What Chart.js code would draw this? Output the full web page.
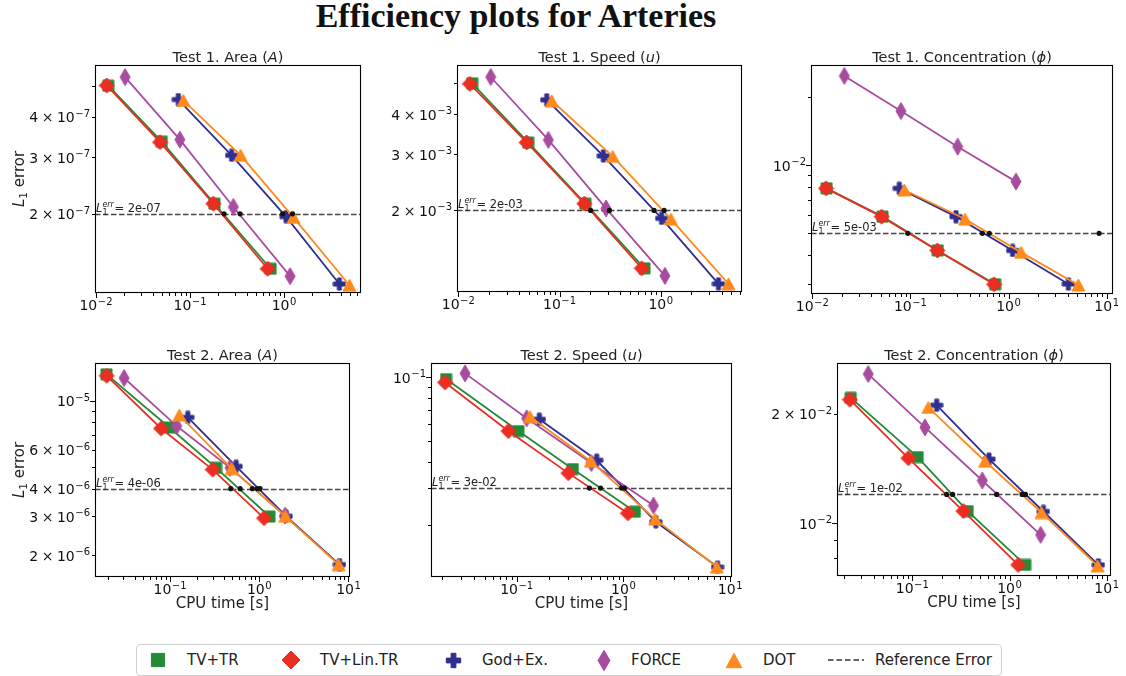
<!DOCTYPE html>
<html>
<head>
<meta charset="utf-8">
<title>Efficiency plots for Arteries</title>
<script src="https://cdn.jsdelivr.net/npm/chart.js@4.4.1/dist/chart.umd.min.js"></script>
<style>
  body { margin: 0; width: 1126px; height: 676px; overflow: hidden; background: #fff; position: relative; font-family: "DejaVu Sans", sans-serif; }
  #title { position: absolute; left: 0; top: -3px; width: 1032px; text-align: center; font: bold 34px/38px "Liberation Serif", "DejaVu Serif", serif; color: #111; }
  .panel { position: absolute; }
  #legend { position: absolute; left: 136px; top: 644px; width: 864px; height: 30px; border: 1px solid #d0d0d0; border-radius: 4px; }
  .lg-mark { position: absolute; }
  .lg-text { position: absolute; top: 6px; font-size: 15px; color: #222; white-space: nowrap; }
</style>
</head>
<body>
<div id="title">Efficiency plots for Arteries</div>
<div id="legend"></div>

<script>
// Efficiency plots - L1 error vs CPU time, 6 panels

const methods = ["TV+TR", "TV+Lin.TR", "God+Ex.", "FORCE", "DOT"];
const colors = ["#238b37", "#ec2d22", "#302e8f", "#a84ca0", "#ff8a1c"];
const shapes = ["square", "diamond", "plus", "thinDiamond", "triangle"];

// Test 1. Area
const t1AreaCpu = [
    [0.0135, 0.050, 0.182, 0.72],
    [0.0130, 0.048, 0.177, 0.67],
    [0.075, 0.277, 1.05, 3.88],
    [0.0204, 0.078, 0.289, 1.16],
    [0.085, 0.346, 1.26, 4.96]
];
const t1AreaErr = [
    [5.0e-7, 3.35e-7, 2.15e-7, 1.35e-7],
    [5.01e-7, 3.34e-7, 2.15e-7, 1.35e-7],
    [4.53e-7, 3.04e-7, 1.96e-7, 1.21e-7],
    [5.32e-7, 3.40e-7, 2.10e-7, 1.28e-7],
    [4.5e-7, 3.04e-7, 1.95e-7, 1.2e-7]
];
const t1AreaRef = 2e-7;
const t1AreaHits = [0.230, 0.341, 0.968, 1.23];

// Test 1. Speed
const t1SpeedCpu = [
    [0.0137, 0.049, 0.18, 0.69],
    [0.0130, 0.0473, 0.176, 0.649],
    [0.0747, 0.271, 1.02, 3.72],
    [0.0209, 0.0776, 0.288, 1.10],
    [0.0838, 0.336, 1.26, 4.67]
];
const t1SpeedErr = [
    [4.99e-3, 3.26e-3, 2.10e-3, 1.32e-3],
    [4.97e-3, 3.26e-3, 2.10e-3, 1.32e-3],
    [4.43e-3, 2.96e-3, 1.89e-3, 1.18e-3],
    [5.22e-3, 3.32e-3, 2.03e-3, 1.25e-3],
    [4.4e-3, 2.95e-3, 1.88e-3, 1.18e-3]
];
const t1SpeedRef = 2e-3;
const t1SpeedHits = [0.203, 0.311, 0.86, 1.08];

// Test 1. Concentration
const t1ConcCpu = [
    [0.0140, 0.052, 0.19, 0.73],
    [0.0138, 0.0509, 0.188, 0.711],
    [0.077, 0.291, 1.10, 4.07],
    [0.0212, 0.080, 0.303, 1.19],
    [0.0867, 0.36, 1.34, 5.14]
];
const t1ConcErr = [
    [7.89e-3, 5.92e-3, 4.20e-3, 2.98e-3],
    [7.89e-3, 5.92e-3, 4.20e-3, 2.98e-3],
    [7.89e-3, 5.92e-3, 4.20e-3, 2.99e-3],
    [0.0247, 0.0173, 0.01205, 8.45e-3],
    [7.76e-3, 5.78e-3, 4.12e-3, 2.96e-3]
];
const t1ConcRef = 5e-3;
const t1ConcHits = [0.094, 0.541, 0.637, 8.36];

// Test 2. Area
const t2AreaCpu = [
    [0.0194, 0.0983, 0.328, 1.30],
    [0.0195, 0.0793, 0.300, 1.13],
    [0.158, 0.55, 2.0, 7.93],
    [0.0305, 0.1188, 0.471, 1.95],
    [0.127, 0.49, 1.95, 7.76]
];
const t2AreaErr = [
    [1.32e-5, 7.58e-6, 4.97e-6, 2.99e-6],
    [1.30e-5, 7.50e-6, 4.88e-6, 2.94e-6],
    [8.42e-6, 5.05e-6, 3.00e-6, 1.81e-6],
    [1.27e-5, 7.69e-6, 4.97e-6, 3.02e-6],
    [8.63e-6, 4.93e-6, 3.0e-6, 1.81e-6]
];
const t2AreaRef = 4e-6;
const t2AreaHits = [0.479, 0.61, 0.837, 0.952, 1.02];

// Test 2. Speed
const t2SpeedCpu = [
    [0.0218, 0.1036, 0.335, 1.28],
    [0.0213, 0.0835, 0.305, 1.10],
    [0.163, 0.562, 2.01, 7.61],
    [0.0328, 0.124, 0.50, 1.91],
    [0.133, 0.494, 1.98, 7.5]
];
const t2SpeedErr = [
    [0.0982, 0.0558, 0.0369, 0.0232],
    [0.0947, 0.0558, 0.0353, 0.0228],
    [0.0634, 0.0406, 0.0208, 0.0127],
    [0.1045, 0.0641, 0.0394, 0.0248],
    [0.0653, 0.0402, 0.0214, 0.0127]
];
const t2SpeedRef = 3e-2;
const t2SpeedHits = [0.48, 0.61, 0.96, 1.02];

// Test 2. Concentration
const t2ConcCpu = [
    [0.0233, 0.1135, 0.371, 1.45],
    [0.0228, 0.091, 0.335, 1.23],
    [0.178, 0.615, 2.23, 8.2],
    [0.0352, 0.135, 0.525, 2.09],
    [0.146, 0.56, 2.14, 8.07]
];
const t2ConcErr = [
    [0.0221, 0.0152, 0.0108, 7.68e-3],
    [0.02185, 0.0151, 0.0108, 7.68e-3],
    [0.0211, 0.0150, 0.01077, 7.68e-3],
    [0.0257, 0.01834, 0.0131, 9.29e-3],
    [0.0208, 0.0148, 0.0107, 7.63e-3]
];
const t2ConcRef = 0.012;
const t2ConcHits = [0.2256, 0.26, 0.738, 1.35, 1.46];

// axis limits and labelled y ticks
const xLimits = [[0.00976, 6.59], [0.00971, 6.35], [0.0097, 11.6], [0.0144, 10.4], [0.01574, 10.4], [0.0168, 11.07]];
const yLimits = [[1.135e-7, 5.8e-7], [1.113e-3, 5.69e-3], [2.70e-3, 0.0276], [1.59e-6, 1.486e-5], [0.0114, 0.117], [7.16e-3, 0.02756]];
const yLabelTicks = [[2e-7, 3e-7, 4e-7], [2e-3, 3e-3, 4e-3], [1e-2], [2e-6, 3e-6, 4e-6, 6e-6, 1e-5], [1e-1], [1e-2, 2e-2]];

// plot areas on the page
const plotBoxes = [
    { left: 95, top: 65, right: 361, bottom: 293 },
    { left: 457, top: 65, right: 742, bottom: 292 },
    { left: 811, top: 65, right: 1113, bottom: 294 },
    { left: 95, top: 363, right: 350, bottom: 577 },
    { left: 431, top: 363, right: 732, bottom: 577 },
    { left: 837, top: 363, right: 1111, bottom: 576 }
];

const panels = [
    { title: ["Test 1. Area (", "A", ")"], cpu: t1AreaCpu, err: t1AreaErr, ref: t1AreaRef, hits: t1AreaHits, yTitle: true, xTitle: false },
    { title: ["Test 1. Speed (", "u", ")"], cpu: t1SpeedCpu, err: t1SpeedErr, ref: t1SpeedRef, hits: t1SpeedHits, yTitle: false, xTitle: false },
    { title: ["Test 1. Concentration (", "ϕ", ")"], cpu: t1ConcCpu, err: t1ConcErr, ref: t1ConcRef, hits: t1ConcHits, yTitle: false, xTitle: false },
    { title: ["Test 2. Area (", "A", ")"], cpu: t2AreaCpu, err: t2AreaErr, ref: t2AreaRef, hits: t2AreaHits, yTitle: true, xTitle: true },
    { title: ["Test 2. Speed (", "u", ")"], cpu: t2SpeedCpu, err: t2SpeedErr, ref: t2SpeedRef, hits: t2SpeedHits, yTitle: false, xTitle: true },
    { title: ["Test 2. Concentration (", "ϕ", ")"], cpu: t2ConcCpu, err: t2ConcErr, ref: t2ConcRef, hits: t2ConcHits, yTitle: false, xTitle: true }
];

const FONT = '"DejaVu Sans", sans-serif';
const AXIS_W = 95, PAD_TOP = 30, PAD_RIGHT = 25, AXIS_H = 45;

// Build a marker image (matplotlib-like shapes)
function makeMarker(shape, color, scale) {
    const dims = { square: [11, 11], diamond: [15, 15], plus: [12, 12], thinDiamond: [10, 17], triangle: [13, 12] };
    const w = dims[shape][0] * scale, h = dims[shape][1] * scale;
    const c = document.createElement("canvas");
    c.width = Math.ceil(w) + 2;
    c.height = Math.ceil(h) + 2;
    const ctx = c.getContext("2d");
    const cx = c.width / 2, cy = c.height / 2;
    ctx.fillStyle = color;
    ctx.strokeStyle = color;
    ctx.lineWidth = 1;
    ctx.beginPath();
    if (shape === "square") {
        ctx.rect(cx - w / 2, cy - h / 2, w, h);
    } else if (shape === "diamond" || shape === "thinDiamond") {
        ctx.moveTo(cx, cy - h / 2);
        ctx.lineTo(cx + w / 2, cy);
        ctx.lineTo(cx, cy + h / 2);
        ctx.lineTo(cx - w / 2, cy);
    } else if (shape === "plus") {
        const t = w / 6, a = w / 2;
        const pts = [[-t, -a], [t, -a], [t, -t], [a, -t], [a, t], [t, t], [t, a], [-t, a], [-t, t], [-a, t], [-a, -t], [-t, -t]];
        pts.forEach((p, i) => i === 0 ? ctx.moveTo(cx + p[0], cy + p[1]) : ctx.lineTo(cx + p[0], cy + p[1]));
    } else {
        ctx.moveTo(cx, cy - h / 2);
        ctx.lineTo(cx + w / 2, cy + h / 2);
        ctx.lineTo(cx - w / 2, cy + h / 2);
    }
    ctx.closePath();
    ctx.fill();
    ctx.stroke();
    return c;
}

function isDecade(v) {
    const l = Math.log10(v);
    return Math.abs(l - Math.round(l)) < 1e-6;
}

function inList(v, list) {
    return list.some(t => Math.abs(t - v) / t < 1e-6);
}

function formatRef(v) {
    return v.toExponential(0).replace(/e([+-])(\d)$/, "e$10$2");
}

// log ticks at 1..9 x 10^n inside the range
function buildLogTicks(scale) {
    const lo = scale.min, hi = scale.max;
    const ticks = [];
    for (let e = Math.floor(Math.log10(lo)); e <= Math.ceil(Math.log10(hi)); e++) {
        for (let k = 1; k <= 9; k++) {
            const v = Number((k * Math.pow(10, e)).toPrecision(6));
            if (v >= lo && v <= hi) ticks.push({ value: v, major: k === 1 });
        }
    }
    scale.ticks = ticks;
}

// draw a run of text pieces, centred on x
function drawParts(ctx, parts, x, y) {
    let total = 0;
    parts.forEach(p => { ctx.font = p.font; p.w = ctx.measureText(p.text).width; total += p.w; });
    let cx = x - total / 2;
    parts.forEach(p => {
        ctx.font = p.font;
        ctx.fillText(p.text, cx, y + (p.dy || 0));
        cx += p.w;
    });
}

// tick label like "4 × 10^-7", with a raised exponent
function drawLogLabel(ctx, v, x, baseline, align) {
    const e = Math.floor(Math.log10(v) + 1e-9);
    const m = Math.round(v / Math.pow(10, e));
    const main = "14px " + FONT, small = "10px " + FONT;
    const pieces = [];
    if (m !== 1) {
        pieces.push({ text: String(m), font: main, gap: 3.5 });
        pieces.push({ text: "×", font: main, gap: 3.5 });
    }
    pieces.push({ text: "10", font: main, gap: 0.5 });
    pieces.push({ text: String(e).replace("-", "\u2212"), font: small, gap: 0, dy: -5.5 });
    let total = 0;
    pieces.forEach((p, i) => {
        ctx.font = p.font;
        p.w = ctx.measureText(p.text).width;
        total += p.w + (i < pieces.length - 1 ? p.gap : 0);
    });
    let cx = align === "right" ? x - total : x - total / 2;
    pieces.forEach(p => {
        ctx.font = p.font;
        ctx.fillText(p.text, cx, baseline + (p.dy || 0));
        cx += p.w + p.gap;
    });
}

// Frame, tick marks, titles and reference line
const panelDecor = {
    id: "panelDecor",
    beforeDatasetsDraw(chart, args, opts) {
        const { ctx, chartArea: a, scales } = chart;
        const y = Math.round(scales.y.getPixelForValue(opts.ref)) + 0.5;
        ctx.save();
        ctx.strokeStyle = "#444";
        ctx.lineWidth = 1.4;
        ctx.setLineDash([5.5, 2.5]);
        ctx.beginPath();
        ctx.moveTo(a.left, y);
        ctx.lineTo(a.right, y);
        ctx.stroke();
        ctx.restore();

        // reference label
        ctx.save();
        ctx.fillStyle = "#222";
        ctx.textBaseline = "alphabetic";
        let x = a.left + 1;
        const by = y - 2.5;
        ctx.font = "italic 11.5px " + FONT;
        ctx.fillText("L", x, by);
        x += ctx.measureText("L").width;
        ctx.font = "8px " + FONT;
        ctx.fillText("1", x, by + 2.5);
        const w1 = ctx.measureText("1").width;
        ctx.font = "italic 8px " + FONT;
        ctx.fillText("err", x, by - 5);
        x += Math.max(w1, ctx.measureText("err").width) + 0.5;
        ctx.font = "11.5px " + FONT;
        ctx.fillText("= " + formatRef(opts.ref), x, by);
        ctx.restore();
    },
    afterDraw(chart, args, opts) {
        const { ctx, chartArea: a, scales } = chart;
        ctx.save();
        ctx.strokeStyle = "#000";
        ctx.lineWidth = 1.1;
        ctx.strokeRect(a.left + 0.5, a.top + 0.5, a.right - a.left - 1, a.bottom - a.top - 1);

        // tick marks
        ctx.lineWidth = 1;
        ctx.beginPath();
        scales.x.ticks.forEach(t => {
            const px = Math.round(scales.x.getPixelForValue(t.value)) + 0.5;
            const len = isDecade(t.value) ? 5 : 3;
            ctx.moveTo(px, a.bottom);
            ctx.lineTo(px, a.bottom + len);
        });
        scales.y.ticks.forEach(t => {
            const py = Math.round(scales.y.getPixelForValue(t.value)) + 0.5;
            const len = isDecade(t.value) ? 5 : 3;
            ctx.moveTo(a.left, py);
            ctx.lineTo(a.left - len, py);
        });
        ctx.stroke();

        // tick labels
        ctx.fillStyle = "#111";
        ctx.textBaseline = "alphabetic";
        scales.x.ticks.forEach(t => {
            if (isDecade(t.value)) drawLogLabel(ctx, t.value, scales.x.getPixelForValue(t.value), a.bottom + 17, "center");
        });
        scales.y.ticks.forEach(t => {
            if (inList(t.value, opts.yLabels)) drawLogLabel(ctx, t.value, a.left - 5, scales.y.getPixelForValue(t.value) + 5.5, "right");
        });

        // subplot title
        ctx.fillStyle = "#222";
        const f = "14.5px " + FONT, fi = "italic 14.5px " + FONT;
        drawParts(ctx, [
            { text: opts.title[0], font: f },
            { text: opts.title[1], font: fi },
            { text: opts.title[2], font: f }
        ], (a.left + a.right) / 2, a.top - 3);

        // x axis title
        if (opts.xTitle) {
            ctx.textBaseline = "middle";
            drawParts(ctx, [{ text: "CPU time [s]", font: "15px " + FONT }], (a.left + a.right) / 2, a.bottom + 27);
        }

        // y axis title
        if (opts.yTitle) {
            ctx.translate(a.left - 75, (a.top + a.bottom) / 2);
            ctx.rotate(-Math.PI / 2);
            ctx.textBaseline = "middle";
            drawParts(ctx, [
                { text: "L", font: "italic 15px " + FONT },
                { text: "1", font: "10.5px " + FONT, dy: 4 },
                { text: " error", font: "15px " + FONT }
            ], 0, 0);
        }
        ctx.restore();
    }
};

// Create the six panels
function createPanel(i) {
    const p = panels[i];
    const box = plotBoxes[i];
    const W = box.right - box.left + AXIS_W + PAD_RIGHT;
    const H = box.bottom - box.top + PAD_TOP + AXIS_H;

    const holder = document.createElement("div");
    holder.className = "panel";
    holder.style.left = (box.left - AXIS_W) + "px";
    holder.style.top = (box.top - PAD_TOP) + "px";
    const canvas = document.createElement("canvas");
    canvas.width = W;
    canvas.height = H;
    holder.appendChild(canvas);
    document.body.appendChild(holder);

    const datasets = methods.map((name, m) => ({
        label: name,
        data: p.cpu[m].map((x, k) => ({ x: x, y: p.err[m][k] })),
        showLine: true,
        borderColor: colors[m],
        backgroundColor: colors[m],
        borderWidth: 1.8,
        pointStyle: makeMarker(shapes[m], colors[m], 1),
        pointRadius: 6,
        order: methods.length - m
    }));
    datasets.push({
        label: "hits",
        data: p.hits.map(x => ({ x: x, y: p.ref })),
        pointStyle: "circle",
        pointRadius: 2.6,
        borderWidth: 0,
        backgroundColor: "#111",
        order: 0
    });

    new Chart(canvas, {
        type: "scatter",
        data: { datasets: datasets },
        options: {
            animation: false,
            responsive: false,
            layout: { padding: { top: PAD_TOP, right: PAD_RIGHT, left: 0, bottom: 0 } },
            plugins: {
                legend: { display: false },
                tooltip: { enabled: false },
                panelDecor: { title: p.title, ref: p.ref, xTitle: p.xTitle, yTitle: p.yTitle, yLabels: yLabelTicks[i] }
            },
            scales: {
                x: {
                    type: "logarithmic",
                    position: "bottom",
                    min: xLimits[i][0],
                    max: xLimits[i][1],
                    bounds: "data",
                    grid: { display: false, drawTicks: false },
                    border: { display: false },
                    afterBuildTicks: buildLogTicks,
                    afterFit: s => { s.height = AXIS_H; },
                    ticks: { autoSkip: false, maxRotation: 0, minRotation: 0, callback: () => "" }
                },
                y: {
                    type: "logarithmic",
                    position: "left",
                    min: yLimits[i][0],
                    max: yLimits[i][1],
                    bounds: "data",
                    grid: { display: false, drawTicks: false },
                    border: { display: false },
                    afterBuildTicks: buildLogTicks,
                    afterFit: s => { s.width = AXIS_W; },
                    ticks: { autoSkip: false, callback: () => "" }
                }
            }
        },
        plugins: [panelDecor]
    });
}

// Figure legend
function buildLegend() {
    const legend = document.getElementById("legend");
    const markX = [21, 154, 316, 467, 597];
    const textX = [50, 183, 345, 494, 626];
    methods.forEach((name, m) => {
        const mk = makeMarker(shapes[m], colors[m], 1.2);
        mk.className = "lg-mark";
        mk.style.left = (markX[m] - mk.width / 2) + "px";
        mk.style.top = (15 - mk.height / 2) + "px";
        legend.appendChild(mk);
        const t = document.createElement("span");
        t.className = "lg-text";
        t.style.left = textX[m] + "px";
        t.textContent = name;
        legend.appendChild(t);
    });
    const dash = document.createElement("canvas");
    dash.width = 36;
    dash.height = 4;
    dash.className = "lg-mark";
    dash.style.left = "691px";
    dash.style.top = "13px";
    const dctx = dash.getContext("2d");
    dctx.strokeStyle = "#333";
    dctx.lineWidth = 1.4;
    dctx.setLineDash([5.5, 3]);
    dctx.beginPath();
    dctx.moveTo(0, 2);
    dctx.lineTo(36, 2);
    dctx.stroke();
    legend.appendChild(dash);
    const t = document.createElement("span");
    t.className = "lg-text";
    t.style.left = "738px";
    t.textContent = "Reference Error";
    legend.appendChild(t);
}

document.addEventListener("DOMContentLoaded", () => {
    for (let i = 0; i < panels.length; i++) createPanel(i);
    buildLegend();
});
</script>
</body>
</html>
